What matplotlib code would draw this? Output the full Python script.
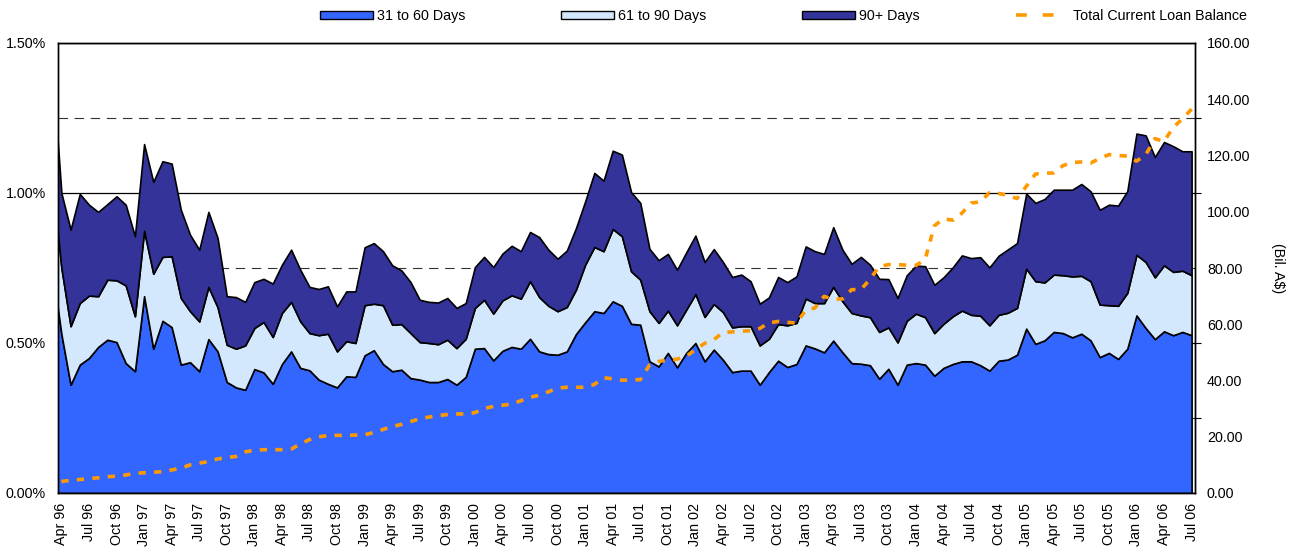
import numpy as np
import matplotlib
matplotlib.use('Agg')
import matplotlib.pyplot as plt
import pandas as pd
from matplotlib.ticker import FuncFormatter, MultipleLocator, FixedLocator
from matplotlib.lines import Line2D
from matplotlib.patches import Patch

plt.rcParams['font.family'] = ['Liberation Sans', 'DejaVu Sans']

# Monthly categories (Mar 96 is partly clipped at the left edge)
months = pd.period_range('1996-03', '2006-07', freq='M')
month_labels = [p.strftime('%b %y') for p in months]

# Delinquency rates, % of balance
d31_60 = [0.75,
    .53, .361, .428, .450, .487, .511, .503, .433, .406, .656,
    .481, .574, .553, .428, .436, .406, .513, .472, .370, .352,
    .344, .413, .402, .364, .430, .472, .417, .409, .378, .364,
    .352, .389, .387, .459, .476, .430, .406, .411, .383, .378,
    .370, .370, .380, .361, .387, .481, .483, .442, .474, .487,
    .481, .514, .472, .463, .461, .472, .530, .569, .606, .600,
    .639, .624, .564, .561, .439, .422, .467, .419, .467, .500,
    .439, .478, .444, .403, .408, .408, .361, .403, .441, .420,
    .430, .492, .482, .469, .508, .469, .433, .431, .426, .381,
    .414, .361, .428, .433, .428, .391, .417, .430, .439, .439,
    .426, .408, .441, .445, .461, .548, .497, .509, .537, .533,
    .519, .531, .509, .453, .467, .447, .481, .592, .550, .513,
    .539, .526, .537, .526]

d61_90 = [0.30,
    .22, .195, .205, .208, .169, .200, .206, .259, .183, .218,
    .250, .213, .236, .222, .170, .166, .174, .147, .124, .129,
    .148, .137, .168, .156, .170, .165, .155, .124, .148, .167,
    .120, .117, .113, .167, .155, .196, .155, .152, .150, .125,
    .130, .126, .131, .122, .127, .136, .161, .156, .168, .172,
    .167, .192, .181, .161, .145, .148, .148, .192, .214, .206,
    .241, .232, .175, .150, .167, .145, .141, .140, .144, .163,
    .148, .152, .159, .149, .148, .148, .131, .111, .122, .139,
    .137, .156, .151, .164, .179, .170, .167, .161, .160, .156,
    .138, .141, .146, .165, .158, .142, .147, .159, .169, .155,
    .165, .151, .153, .156, .156, .200, .209, .193, .191, .193,
    .203, .193, .197, .175, .159, .177, .186, .202, .220, .206,
    .220, .211, .204, .200]

d90_plus = [0.38,
    .25, .322, .364, .303, .281, .252, .280, .269, .267, .289,
    .306, .319, .309, .294, .255, .239, .250, .231, .162, .172,
    .145, .153, .144, .178, .161, .174, .172, .154, .154, .158,
    .150, .166, .172, .193, .202, .180, .198, .179, .170, .141,
    .137, .139, .139, .134, .119, .136, .143, .155, .156, .165,
    .158, .164, .200, .187, .175, .188, .205, .211, .247, .235,
    .261, .272, .264, .256, .208, .209, .189, .185, .191, .195,
    .183, .183, .167, .168, .172, .150, .139, .138, .157, .144,
    .155, .174, .173, .164, .199, .172, .164, .195, .175, .177,
    .161, .148, .152, .160, .170, .161, .155, .163, .184, .189,
    .195, .193, .197, .211, .216, .250, .261, .278, .283, .285,
    .289, .306, .300, .316, .335, .334, .339, .404, .422, .401,
    .411, .419, .398, .413]

# Total current loan balance, Bil. A$
balance = [np.nan,
    4.1, 4.5, 4.8, 5.1, 5.4, 5.8, 6.0, 6.4, 7.0, 7.2,
    7.4, 7.6, 8.2, 8.8, 10.0, 10.6, 11.2, 12.1, 12.6, 13.0,
    14.6, 15.2, 15.4, 15.4, 15.4, 15.6, 17.4, 19.0, 20.0, 20.4,
    20.5, 20.5, 20.6, 20.7, 21.5, 22.6, 23.6, 24.4, 25.4, 26.4,
    27.0, 27.5, 27.9, 28.1, 28.1, 28.6, 30.0, 30.8, 31.2, 31.6,
    32.8, 34.1, 34.7, 36.0, 37.3, 37.6, 37.6, 37.6, 38.6, 41.0,
    40.6, 40.1, 40.2, 40.3, 45.5, 46.8, 47.2, 47.6, 48.6, 51.0,
    53.2, 54.5, 57.1, 57.3, 57.5, 57.7, 58.5, 60.5, 61.0, 60.7,
    60.4, 65.0, 65.8, 69.9, 68.9, 69.0, 72.3, 72.3, 76.0, 80.5,
    81.2, 81.2, 81.0, 80.9, 83.0, 95.0, 97.5, 97.0, 99.5, 103.1,
    103.5, 106.8, 106.5, 105.8, 104.7, 109.0, 113.4, 113.7, 113.8, 116.4,
    117.5, 117.7, 117.3, 119.0, 120.3, 120.0, 119.8, 118.0, 120.2, 126.0,
    125.0, 130.0, 133.0, 136.5]

series_names = ['31 to 60 Days', '61 to 90 Days', '90+ Days']
balance_name = 'Total Current Loan Balance'
colors = ['#3366FF', '#D4E8FD', '#333399']
orange = '#FF9900'

W, H = 1293, 552
fig = plt.figure(figsize=(W / 100, H / 100), dpi=100)
ax = fig.add_axes([58 / W, (H - 493) / H, (1195 - 58) / W, 450 / H])

x = np.arange(len(months)) - 1  # Apr 96 -> 0

ax.stackplot(x, d31_60, d61_90, d90_plus, colors=colors,
             edgecolor='black', linewidth=1.2, zorder=2)

ax.set_xlim(-0.37, 123.37)
ax.set_ylim(0, 1.5)
ax.yaxis.set_major_locator(MultipleLocator(0.5))
ax.yaxis.set_minor_locator(MultipleLocator(0.25))
ax.yaxis.set_major_formatter(FuncFormatter(lambda v, p: f'{v:.2f}%'))
ax.set_axisbelow(True)
ax.grid(which='major', axis='y', color='black', linewidth=0.9, zorder=0)
ax.grid(which='minor', axis='y', color='#333333', linewidth=0.8,
        linestyle=(0, (8.5, 6)), zorder=0)
ax.tick_params(axis='y', which='both', length=0, pad=8.6, labelsize=10.3)

tick_pos = x[1::3]
tick_lab = month_labels[1::3]
ax.set_xticks(tick_pos)
ax.set_xticklabels(tick_lab, rotation=90, ha='center', va='top')
ax.tick_params(axis='x', length=0, pad=7, labelsize=10.3)

for s in ax.spines.values():
    s.set_color('black')
    s.set_linewidth(1.0)

line_style = (0, (2.0, 2.3))
ax2 = ax.twinx()
ax2.plot(x, balance, color=orange, linewidth=2.6,
         linestyle=line_style, zorder=3)
ax2.set_ylim(0, 160)
ax2.yaxis.set_major_locator(MultipleLocator(20))
ax2.yaxis.set_minor_locator(FixedLocator(np.arange(0, 161, 160 / 6)))
ax2.yaxis.set_major_formatter(FuncFormatter(lambda v, p: f'{v:.2f}'))
ax2.tick_params(axis='y', which='major', length=0, pad=8.6, labelsize=10.3)
ax2.tick_params(axis='y', which='minor', length=4, direction='out', width=0.8)
for s in ax2.spines.values():
    s.set_color('black')
    s.set_linewidth(1.0)

fig.text(1278 / W, 1 - 268 / H, '(Bil. A$)', rotation=270,
         ha='center', va='center', fontsize=10.3)

handles = [Patch(facecolor=c, edgecolor='black', linewidth=1.0) for c in colors]
handles.append(Line2D([0], [0], color=orange, linewidth=2.6,
                      linestyle=(0, (3.0, 4.4))))
fig.legend(handles, series_names + [balance_name], loc='center left',
           bbox_to_anchor=(320 / W, 1 - 16 / H), ncol=4, frameon=False,
           fontsize=10.3, handlelength=3.7, handleheight=0.58,
           handletextpad=0.28, columnspacing=6.7, borderpad=0,
           borderaxespad=0)

fig.savefig('out.png', dpi=100)
